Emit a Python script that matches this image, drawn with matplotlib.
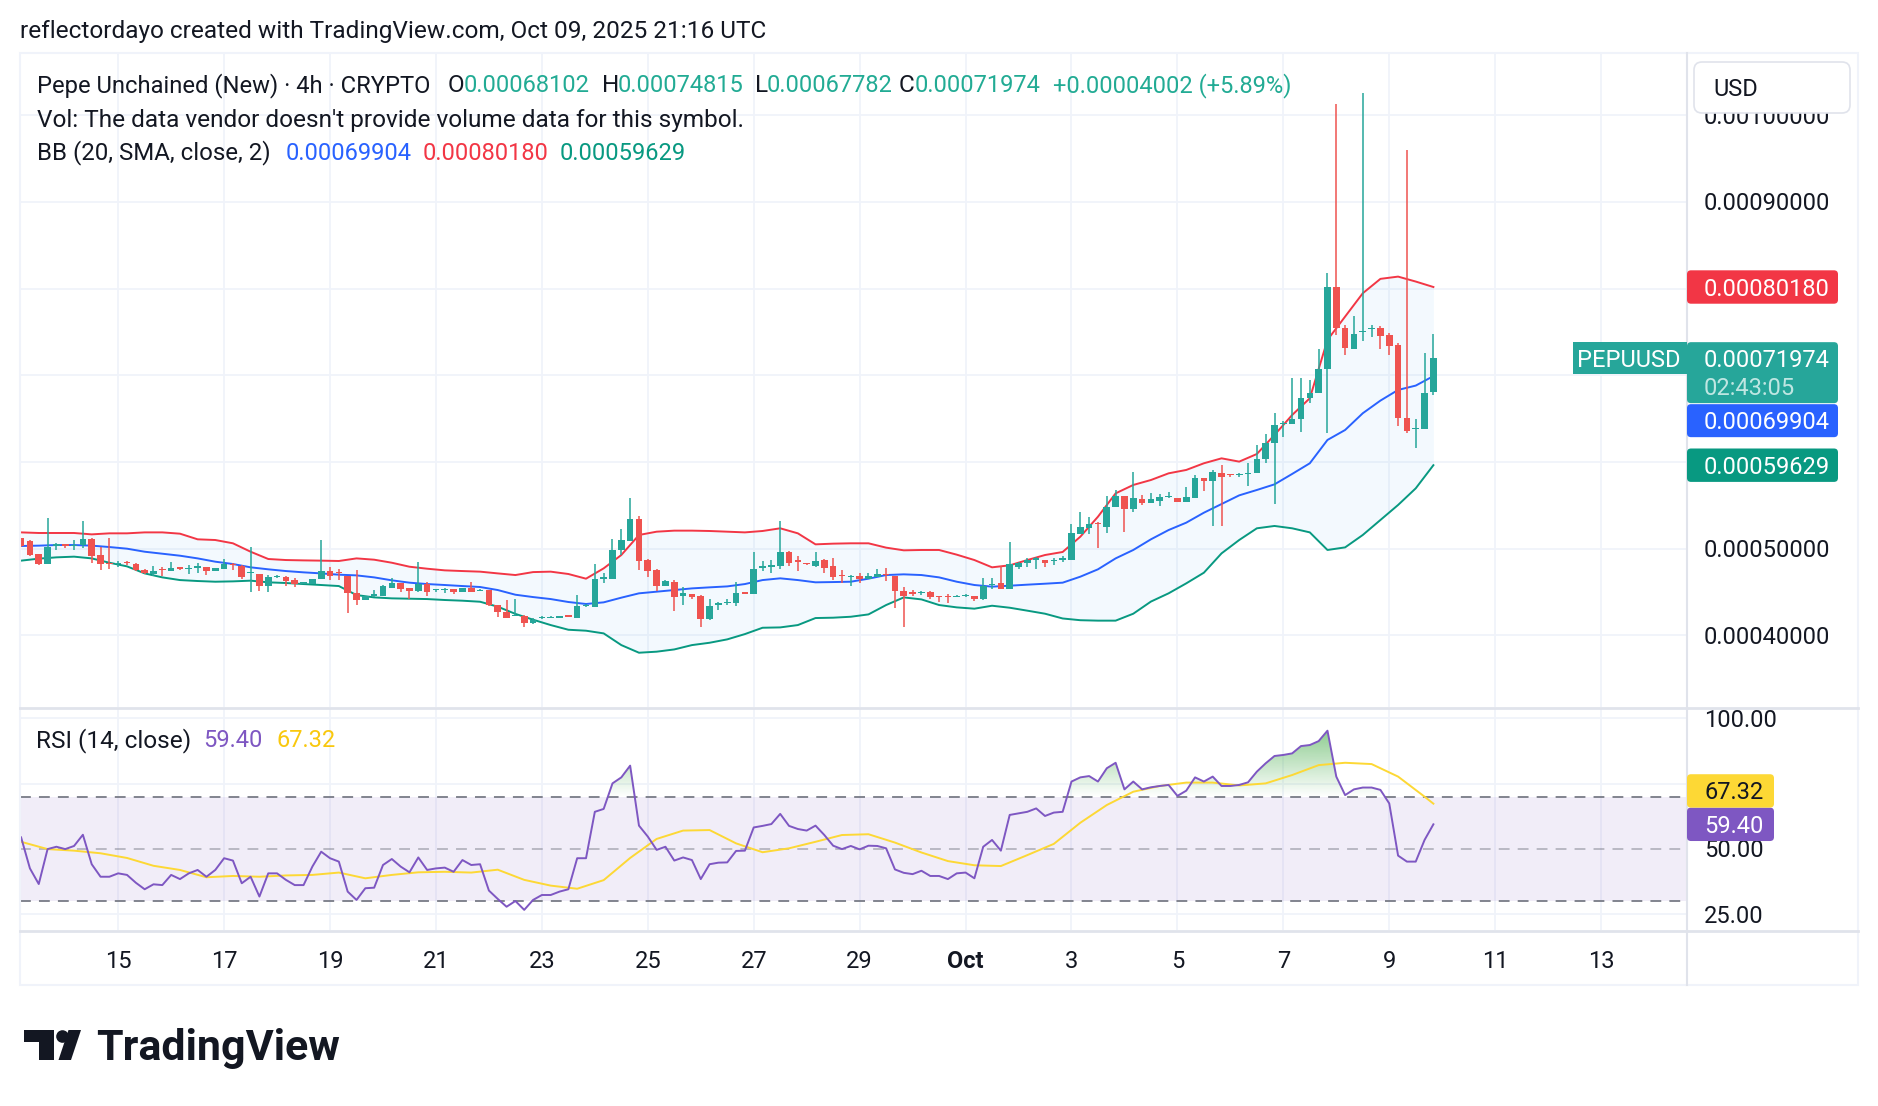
import matplotlib
matplotlib.use("Agg")
import matplotlib.pyplot as plt
import numpy as np
from matplotlib.patches import FancyBboxPatch, Rectangle, Circle, Polygon
from matplotlib.path import Path

plt.rcParams["font.family"] = ["Roboto", "DejaVu Sans"]

W, H = 1878, 1106
PRICE_UNIT = 1e-5  # prices below are stored in units of 0.00001 USD

# PEPUUSD 4h candles, Sep 13 04:00 UTC -> Oct 9 20:00 UTC
opens = [51.2, 50.9, 49.4, 48.2, 50.3, 50.5, 50.3, 50.4, 51.1, 49.3,
         48.4, 48.2, 48.45, 48.25, 47.55, 47.1, 47.6, 47.4, 47.85, 47.65,
         47.8, 47.85, 47.4, 47.7, 48.25, 48.0, 47.2, 47.1, 45.75, 46.75,
         46.75, 46.4, 45.95, 45.95, 46.5, 47.4, 47.3, 46.9, 44.85, 44.1,
         44.6, 44.55, 45.5, 46.0, 45.45, 45.1, 45.9, 45.2, 45.25, 45.3,
         44.95, 45.5, 45.1, 45.2, 43.5, 42.75, 42.25, 42.25, 41.4, 42.0,
         42.0, 42.05, 42.3, 42.05, 43.4, 43.3, 46.55, 46.55, 49.8, 50.9,
         53.4, 48.7, 47.55, 45.75, 46.15, 44.6, 44.75, 44.6, 41.85, 43.55,
         43.7, 43.7, 44.95, 44.8, 47.75, 47.85, 48.0, 49.6, 48.6, 48.35,
         48.0, 48.7, 48.0, 46.9, 46.75, 46.85, 46.55, 46.75, 47.05, 46.8,
         45.1, 44.9, 44.85, 44.95, 44.5, 44.5, 44.45, 44.55, 44.6, 44.15,
         45.8, 46.0, 45.35, 47.85, 48.4, 48.75, 48.7, 48.55, 48.75, 48.7,
         51.75, 52.35, 52.95, 52.45, 54.75, 56.05, 54.55, 55.7, 55.3, 55.55,
         55.95, 55.8, 55.4, 55.9, 58.1, 57.85, 58.75, 58.55, 58.45, 58.6,
         58.7, 60.4, 62.2, 64.4, 64.4, 64.9, 67.35, 68.0, 70.75, 80.15,
         75.4, 73.0, 75.0, 75.3, 75.4, 74.6, 73.5, 65.05, 63.8, 63.75,
         68.102]
highs = [51.2, 51.0, 49.4, 53.5, 50.6, 50.5, 51.0, 53.2, 51.2, 50.15,
         51.2, 48.6, 48.6, 48.3, 47.6, 48.05, 47.9, 48.45, 47.85, 48.1,
         48.3, 47.9, 47.8, 48.8, 48.3, 48.1, 50.15, 47.1, 46.95, 47.0,
         46.8, 46.6, 46.1, 46.55, 51.0, 47.85, 47.7, 46.9, 47.55, 44.6,
         45.2, 45.8, 46.6, 46.0, 45.5, 48.45, 46.1, 45.35, 45.5, 45.4,
         45.5, 46.1, 45.3, 45.25, 43.5, 44.1, 44.25, 42.3, 41.95, 42.25,
         42.2, 42.1, 42.4, 44.65, 43.6, 48.2, 47.15, 51.1, 52.25, 55.85,
         53.75, 48.8, 47.6, 46.4, 46.4, 45.6, 44.8, 44.7, 44.15, 43.9,
         44.25, 46.15, 45.0, 49.6, 48.6, 48.75, 53.2, 49.75, 49.15, 48.35,
         49.6, 48.85, 48.9, 47.55, 46.95, 47.15, 47.15, 47.7, 47.75, 46.9,
         45.55, 45.25, 45.1, 45.15, 44.55, 44.75, 44.65, 44.75, 44.6, 46.6,
         46.6, 48.0, 50.75, 48.5, 48.9, 49.0, 48.7, 48.9, 49.1, 52.9,
         54.2, 53.6, 53.1, 56.1, 56.75, 56.1, 58.85, 56.2, 56.45, 56.3,
         56.55, 55.8, 57.15, 58.5, 58.1, 59.1, 59.65, 58.6, 58.7, 59.85,
         61.95, 63.2, 65.6, 64.75, 69.65, 69.65, 69.5, 73.0, 81.85, 101.3,
         75.8, 76.85, 102.6, 75.8, 75.7, 74.9, 73.75, 96.0, 64.9, 72.55,
         74.815]
lows = [50.2, 49.2, 48.1, 48.2, 49.9, 50.1, 49.85, 50.05, 48.4, 47.5,
        47.7, 47.85, 48.1, 47.4, 47.1, 46.85, 46.9, 47.4, 47.5, 47.05,
        47.25, 47.0, 47.4, 47.65, 47.55, 46.55, 45.05, 45.15, 45.05, 46.6,
        45.75, 45.6, 45.9, 45.9, 46.45, 46.4, 46.35, 42.6, 43.55, 44.1,
        44.45, 44.55, 45.5, 45.05, 44.2, 45.05, 44.55, 45.05, 44.85, 44.8,
        44.95, 45.05, 45.1, 43.4, 42.1, 41.95, 42.2, 41.0, 41.35, 41.9,
        42.0, 42.0, 42.1, 42.05, 43.3, 43.3, 46.0, 46.55, 49.3, 50.9,
        47.5, 46.75, 45.1, 45.7, 42.85, 43.5, 44.25, 41.0, 41.75, 42.9,
        43.5, 43.4, 44.8, 44.8, 47.45, 47.2, 47.7, 48.0, 47.45, 48.15,
        47.85, 47.25, 46.4, 46.0, 45.75, 46.0, 46.55, 46.7, 46.25, 43.2,
        41.0, 44.6, 44.7, 44.2, 43.85, 43.7, 44.4, 44.45, 44.0, 44.1,
        45.4, 45.35, 45.35, 47.7, 47.9, 47.7, 47.85, 48.1, 48.5, 48.7,
        51.7, 51.75, 50.05, 51.85, 54.75, 51.95, 54.2, 55.05, 55.3, 54.9,
        55.8, 55.4, 55.4, 55.8, 56.6, 52.65, 52.65, 58.3, 58.25, 57.2,
        58.7, 59.9, 55.2, 62.9, 64.4, 63.5, 66.85, 68.0, 63.3, 74.65,
        72.35, 73.0, 73.9, 74.45, 73.0, 72.3, 64.1, 63.3, 61.65, 63.75,
        67.782]
closes = [50.3, 49.3, 48.2, 50.15, 50.5, 50.3, 50.4, 51.1, 49.1, 48.2,
          48.25, 48.3, 48.3, 47.55, 47.15, 47.45, 47.5, 47.8, 47.7, 47.75,
          47.85, 47.4, 47.75, 48.25, 48.1, 46.7, 47.35, 45.75, 46.7, 46.85,
          46.3, 45.9, 46.05, 46.55, 47.4, 46.9, 47.2, 44.85, 44.1, 44.6,
          44.65, 45.75, 46.0, 45.35, 45.1, 45.9, 44.95, 45.25, 45.3, 44.95,
          45.5, 45.05, 45.25, 43.45, 42.7, 42.05, 42.35, 41.4, 41.75, 42.05,
          42.1, 42.1, 42.15, 43.4, 43.5, 46.5, 46.7, 49.85, 51.0, 53.4,
          48.6, 47.45, 45.75, 46.3, 44.45, 44.85, 44.45, 41.85, 43.4, 43.65,
          43.8, 44.85, 44.8, 47.65, 47.95, 48.1, 49.6, 48.4, 48.5, 48.2,
          48.6, 47.8, 46.75, 46.85, 46.8, 46.55, 46.9, 47.1, 46.95, 45.1,
          44.6, 44.8, 44.95, 44.4, 44.45, 44.45, 44.5, 44.6, 44.15, 45.7,
          45.95, 45.35, 48.2, 48.3, 48.7, 48.8, 48.3, 48.6, 48.8, 51.8,
          52.45, 52.9, 52.85, 54.75, 56.05, 54.55, 55.8, 55.3, 55.7, 56.0,
          56.0, 55.4, 56.0, 58.1, 57.75, 58.9, 58.3, 58.45, 58.6, 58.75,
          60.4, 62.2, 64.25, 64.55, 64.9, 67.4, 68.0, 70.7, 80.15, 75.4,
          73.1, 74.8, 75.15, 75.4, 74.55, 73.4, 65.05, 63.6, 63.85, 67.972,
          71.974]

# Bollinger Bands (20, SMA, 2), read every second bar
bb_upper = [51.88, 51.81, 51.81, 51.81, 51.65, 51.77, 51.77, 51.88, 51.88, 51.73,
            51.08, 51.00, 50.62, 49.65, 48.81, 48.69, 48.65, 48.62, 48.58, 48.88,
            48.73, 48.38, 47.92, 47.69, 47.50, 47.42, 47.35, 47.15, 46.96, 47.30,
            47.35, 47.08, 46.54, 47.73, 49.27, 51.58, 51.96, 52.08, 52.08, 52.04,
            51.96, 51.88, 52.04, 52.35, 51.77, 50.50, 50.58, 50.62, 50.62, 50.12,
            49.81, 49.85, 49.85, 49.31, 48.69, 47.85, 48.08, 48.69, 49.27, 49.62,
            51.38, 53.69, 56.38, 57.35, 57.92, 58.69, 59.08, 59.85, 60.42, 60.04,
            60.92, 63.12, 65.42, 67.35, 74.08, 76.77, 79.46, 81.12, 81.38, 80.81,
            80.180]
bb_basis = [50.31, 50.35, 50.42, 50.42, 50.35, 50.19, 50.00, 49.65, 49.42, 49.19,
            48.88, 48.50, 48.23, 47.85, 47.62, 47.42, 47.27, 47.15, 47.00, 46.92,
            46.69, 46.35, 46.08, 45.92, 45.81, 45.69, 45.58, 45.23, 44.69, 44.42,
            44.19, 43.85, 43.62, 43.81, 44.35, 44.85, 45.04, 45.23, 45.42, 45.54,
            45.65, 45.92, 46.38, 46.58, 46.38, 46.12, 46.15, 46.19, 46.54, 46.96,
            47.04, 46.96, 46.69, 46.19, 45.81, 45.62, 45.73, 45.85, 45.96, 46.08,
            46.77, 47.62, 48.88, 49.85, 51.08, 52.15, 53.00, 54.15, 55.15, 56.15,
            56.77, 57.42, 58.62, 59.85, 62.54, 63.69, 65.62, 67.08, 68.31, 68.81,
            69.904]
bb_lower = [48.62, 48.85, 49.00, 49.08, 48.88, 48.38, 47.96, 47.15, 46.69, 46.38,
            46.27, 46.19, 46.23, 46.31, 46.12, 46.04, 45.92, 45.81, 45.69, 44.65,
            44.38, 44.27, 44.23, 44.19, 44.08, 44.00, 43.88, 43.31, 42.48, 41.81,
            41.19, 40.65, 40.54, 40.23, 38.88, 38.00, 38.12, 38.38, 38.88, 39.15,
            39.54, 40.15, 40.88, 40.92, 41.19, 42.00, 42.04, 42.15, 42.42, 43.50,
            44.38, 44.15, 43.50, 43.23, 43.08, 43.42, 43.19, 42.85, 42.50, 41.95,
            41.75, 41.70, 41.70, 42.50, 43.90, 44.85, 46.00, 47.23, 49.46, 51.00,
            52.35, 52.62, 52.35, 51.88, 49.85, 50.15, 51.58, 53.31, 55.04, 56.96,
            59.629]

# RSI (14, close), every bar
rsi = [54.4, 42.5, 36.5, 49.9, 50.8, 49.9, 51.1, 55.4, 44.1, 39.3,
       39.3, 40.6, 40.0, 37.0, 34.5, 36.4, 36.1, 40.0, 38.4, 40.6,
       41.9, 39.3, 41.9, 46.4, 45.5, 36.8, 39.3, 31.7, 40.6, 40.6,
       38.1, 36.1, 36.1, 43.2, 48.9, 46.4, 45.1, 33.6, 30.4, 34.9,
       35.1, 43.8, 46.1, 43.2, 41.0, 46.7, 41.9, 42.5, 42.8, 41.2,
       45.7, 43.8, 44.1, 34.0, 30.8, 27.8, 30.0, 26.6, 30.4, 32.3,
       32.3, 33.6, 34.5, 46.4, 46.4, 64.2, 65.3, 75.1, 77.4, 81.9,
       58.9, 54.7, 49.6, 50.8, 45.5, 46.7, 45.7, 38.4, 44.1, 44.7,
       44.8, 49.2, 49.3, 58.2, 58.8, 59.5, 63.4, 58.8, 57.6, 57.0,
       58.9, 55.3, 51.2, 49.9, 51.1, 49.8, 51.2, 51.1, 50.2, 42.1,
       40.8, 40.3, 41.6, 39.6, 39.6, 38.4, 40.6, 40.9, 38.7, 50.8,
       53.4, 49.3, 63.0, 63.6, 64.2, 65.5, 62.6, 63.9, 64.2, 75.8,
       77.4, 77.9, 75.8, 80.9, 83.0, 72.8, 75.8, 72.8, 73.6, 74.1,
       74.5, 70.3, 72.3, 77.4, 75.8, 77.7, 74.1, 74.1, 74.5, 75.5,
       79.6, 82.8, 85.6, 86.0, 86.6, 89.4, 89.8, 91.3, 95.3, 77.7,
       70.6, 72.8, 73.5, 73.5, 72.6, 67.4, 47.4, 45.1, 45.1, 53.4,
       59.40]
# RSI-based MA, read every third bar plus the last one
rsi_ma = [52.7, 49.9, 49.3, 48.3, 46.5, 43.5, 41.9, 39.1, 39.6, 39.3,
          39.8, 40.0, 40.9, 38.7, 40.0, 41.0, 41.2, 40.9, 42.0, 38.1,
          35.9, 34.7, 38.0, 46.5, 53.8, 57.0, 57.2, 52.1, 48.7, 50.2,
          52.7, 55.3, 55.6, 52.4, 48.6, 45.3, 43.7, 43.4, 47.6, 51.9,
          60.0, 66.8, 71.9, 74.1, 75.4, 75.4, 74.3, 75.1, 78.3, 82.1,
          83.0, 82.5, 77.7, 70.0, 67.32]

price_grid = [40, 50, 60, 70, 80, 90, 100]
price_labels = [40, 50, 90, 100]          # the others sit under the value badges
rsi_grid = [25, 75, 100]
rsi_labels = [25, 50, 100]
date_ticks = [0, 2, 4, 6, 8, 10, 12, 14, 16, 18, 20, 22, 24, 26, 28]   # days after Sep 15
date_labels = ["15", "17", "19", "21", "23", "25", "27", "29", "Oct",
               "3", "5", "7", "9", "11", "13"]

UP, DOWN = "#26a69a", "#ef5350"
TEXT = "#131722"
GRID = "#f0f3fa"
SEP = "#e0e3eb"
FS = 17          # axis labels / values
FS_TXT = 17.6    # header and legend wording


def box(x0, y0, x1, y1):
    # pixel box (top-left origin) -> figure fraction rect
    return [x0 / W, 1 - y1 / H, (x1 - x0) / W, (y1 - y0) / H]


fig = plt.figure(figsize=(W / 100, H / 100), dpi=100)
ax = fig.add_axes(box(20, 53, 1687, 707))
ax_rsi = fig.add_axes(box(20, 708, 1687, 930))
ov = fig.add_axes([0, 0, 1, 1], zorder=10)
ov.set_xlim(0, W)
ov.set_ylim(H, 0)
ov.axis("off")
ov.patch.set_alpha(0)

n = len(closes)
x = (np.arange(n) - 11) / 6.0          # days after Sep 15 00:00
x_bb = x[::2]
ma_bars = list(range(0, n - 1, 3)) + [n - 1]
x_ma = x[ma_bars]
XLIM = (-1.854, 29.622)

for a in (ax, ax_rsi):
    a.set_xticks([])
    a.set_yticks([])
    for s in a.spines.values():
        s.set_visible(False)
    for d in date_ticks:
        a.axvline(d, color=GRID, lw=1.3, zorder=0)

# main price pane
for v in price_grid:
    ax.axhline(v, color=GRID, lw=1.3, zorder=0)
ax.fill_between(x_bb, bb_lower, bb_upper, color="#2196f3", alpha=0.05, lw=0, zorder=1)
ax.plot(x_bb, bb_upper, color="#f23645", lw=1.4, zorder=2)
ax.plot(x_bb, bb_basis, color="#2962ff", lw=1.4, zorder=2)
ax.plot(x_bb, bb_lower, color="#089981", lw=1.4, zorder=2)

o, h, l, c = (np.array(v) for v in (opens, highs, lows, closes))
col = np.where(c >= o, UP, DOWN)
ax.vlines(x, l, h, colors=col, lw=1.1, zorder=4)
ax.bar(x, np.maximum(np.abs(c - o), 0.15), width=0.125, bottom=np.minimum(o, c),
       color=col, lw=0, zorder=5)
ax.set_xlim(*XLIM)
ax.set_ylim(31.74, 107.17)

# RSI pane
r = np.array(rsi)
for v in rsi_grid:
    ax_rsi.axhline(v, color=GRID, lw=1.3, zorder=0)
ax_rsi.axhspan(30, 70, color="#7e57c2", alpha=0.1, lw=0, zorder=0.5)
dash = (0, (6, 4.5))
ax_rsi.axhline(70, color="#787b86", lw=1.3, ls=dash, zorder=1)
ax_rsi.axhline(30, color="#787b86", lw=1.3, ls=dash, zorder=1)
ax_rsi.axhline(50, color="#787b86", lw=1.3, ls=dash, alpha=0.5, zorder=1)
poly = ax_rsi.fill_between(x, 70, r, where=r >= 70, interpolate=True, lw=0)
clip = Path.make_compound_path(*poly.get_paths())
poly.remove()
grad = np.zeros((256, 1, 4))
grad[..., :3] = matplotlib.colors.to_rgb("#4caf50")
grad[..., 3] = np.linspace(0.75, 0.0, 256)[:, None]
im = ax_rsi.imshow(grad, extent=(XLIM[0], XLIM[1], 70, 100), origin="upper",
                   aspect="auto", zorder=1.5, interpolation="bilinear")
im.set_clip_path(clip, transform=ax_rsi.transData)
ax_rsi.plot(x_ma, rsi_ma, color="#fdd835", lw=1.4, zorder=2)
ax_rsi.plot(x, r, color="#7e57c2", lw=1.4, zorder=3)
ax_rsi.set_xlim(*XLIM)
ax_rsi.set_ylim(18.88, 104.0)


def price_y(v):
    return H - ax.transData.transform((0, v))[1]


def rsi_y(v):
    return H - ax_rsi.transData.transform((0, v))[1]


def put(xp, yp, s, color=TEXT, size=FS, ha="left", z=3, **kw):
    # +2px: matplotlib's centre sits a little above the digits' optical centre
    return ov.text(xp, yp + 2, s, color=color, fontsize=size, ha=ha, va="center", zorder=z, **kw)


def badge(y0, y1, x1, color, x0=1687):
    ov.add_patch(FancyBboxPatch((x0, y0), x1 - x0, y1 - y0,
                                boxstyle="round,pad=0,rounding_size=4",
                                fc=color, ec="none", zorder=5))


# frame and separators
ov.add_patch(Rectangle((20, 53), 1838, 932, fill=False, ec=GRID, lw=1.5, zorder=1))
ov.plot([20, 1858], [707.5, 707.5], color=SEP, lw=2, zorder=2)
ov.plot([20, 1858], [930.5, 930.5], color=SEP, lw=2, zorder=2)
ov.plot([1687, 1687], [53, 985], color=SEP, lw=1.5, zorder=2)

# axis labels
fmt = lambda v: f"{v * PRICE_UNIT:.8f}"
for v in price_labels:
    put(1704, price_y(v), fmt(v))
for v in rsi_labels:
    put(1704, rsi_y(v), f"{v:.2f}")
for d, lab in zip(date_ticks, date_labels):
    xp = ax_rsi.transData.transform((d, 0))[0]
    put(xp, 959.5, lab, ha="center", weight="bold" if lab == "Oct" else "normal")

# USD box
ov.add_patch(FancyBboxPatch((1694, 62), 156, 51, boxstyle="round,pad=0,rounding_size=8",
                            fc="white", ec=SEP, lw=1.2, zorder=5))
put(1713, 87, "USD", z=6)

# price badges
yu, yc, yl = (price_y(v) for v in (bb_upper[-1], closes[-1], bb_lower[-1]))
badge(yu - 16.7, yu + 16.7, 1838, "#f23645")
put(1704, yu, fmt(bb_upper[-1]), color="white", z=6)
badge(yc - 16, yc + 45, 1838, "#26a69a")
put(1704, yc, fmt(closes[-1]), color="white", z=6)
put(1704, yc + 28.5, "02:43:05", color="#bfe6e2", z=6)
badge(yc + 46, yc + 79, 1838, "#2962ff")
put(1704, yc + 62.5, fmt(bb_basis[-1]), color="white", z=6)
badge(yl - 16.7, yl + 16.7, 1838, "#089981")
put(1704, yl, fmt(bb_lower[-1]), color="white", z=6)
ov.add_patch(Rectangle((1573, yc - 16), 114, 32, fc="#26a69a", ec="none", zorder=5))
put(1629, yc, "PEPUUSD", color="white", ha="center", z=6)

# RSI badges
yr = rsi_y(rsi[-1])
badge(yr - 16.7, yr + 16.7, 1774, "#7e57c2")
put(1704, yr, f"{rsi[-1]:.2f}", color="white", z=6)
badge(yr - 50.1, yr - 16.7, 1774, "#fdd835")
put(1704, yr - 33.4, f"{rsi_ma[-1]:.2f}", z=6)

# header and legends
put(20, 29.5, "reflectordayo created with TradingView.com, Oct 09, 2025 21:16 UTC", size=FS_TXT)
chg = closes[-1] - closes[-2]
pct = chg / closes[-2] * 100
VAL = "#22ab94"
put(37, 83.5, "Pepe Unchained (New) · 4h · CRYPTO", size=17.1)
for lab, xl, v, xv in [("O", 448, opens[-1], 464), ("H", 602, highs[-1], 618),
                       ("L", 755, lows[-1], 767), ("C", 899, closes[-1], 915)]:
    put(xl, 83.5, lab, size=FS_TXT)
    put(xv, 83.5, fmt(v), color=VAL)
put(1053, 83.5, f"{chg * PRICE_UNIT:+.8f} ({pct:+.2f}%)", color=VAL)
put(37, 118, "Vol: The data vendor doesn't provide volume data for this symbol.", size=FS_TXT)
put(37, 151, "BB (20, SMA, close, 2)", size=17.3)
put(286, 151, fmt(bb_basis[-1]), color="#2962ff")
put(423, 151, fmt(bb_upper[-1]), color="#f23645")
put(560, 151, fmt(bb_lower[-1]), color="#089981")
put(36, 738.5, "RSI (14, close)", size=FS_TXT)
put(203, 738.5, f"{rsi[-1]:.2f}", color="#7e57c2")
put(277, 738.5, f"{rsi_ma[-1]:.2f}", color="#f9c80e")

# TradingView logo
ov.add_patch(Polygon([(24, 1030), (54, 1030), (54, 1060), (38.5, 1060), (38.5, 1042), (24, 1042)],
                     fc=TEXT, ec="none", zorder=3))
ov.add_patch(Circle((62.5, 1036.5), 6.3, fc=TEXT, ec="none", zorder=3))
ov.add_patch(Polygon([(68.5, 1030), (81, 1030), (71, 1060), (58.5, 1060)], fc=TEXT, ec="none", zorder=3))
ov.text(96, 1060, "TradingView", fontsize=31, weight="bold", color=TEXT, ha="left",
        va="baseline", zorder=3)

fig.savefig("out.png", dpi=100, facecolor="white")
